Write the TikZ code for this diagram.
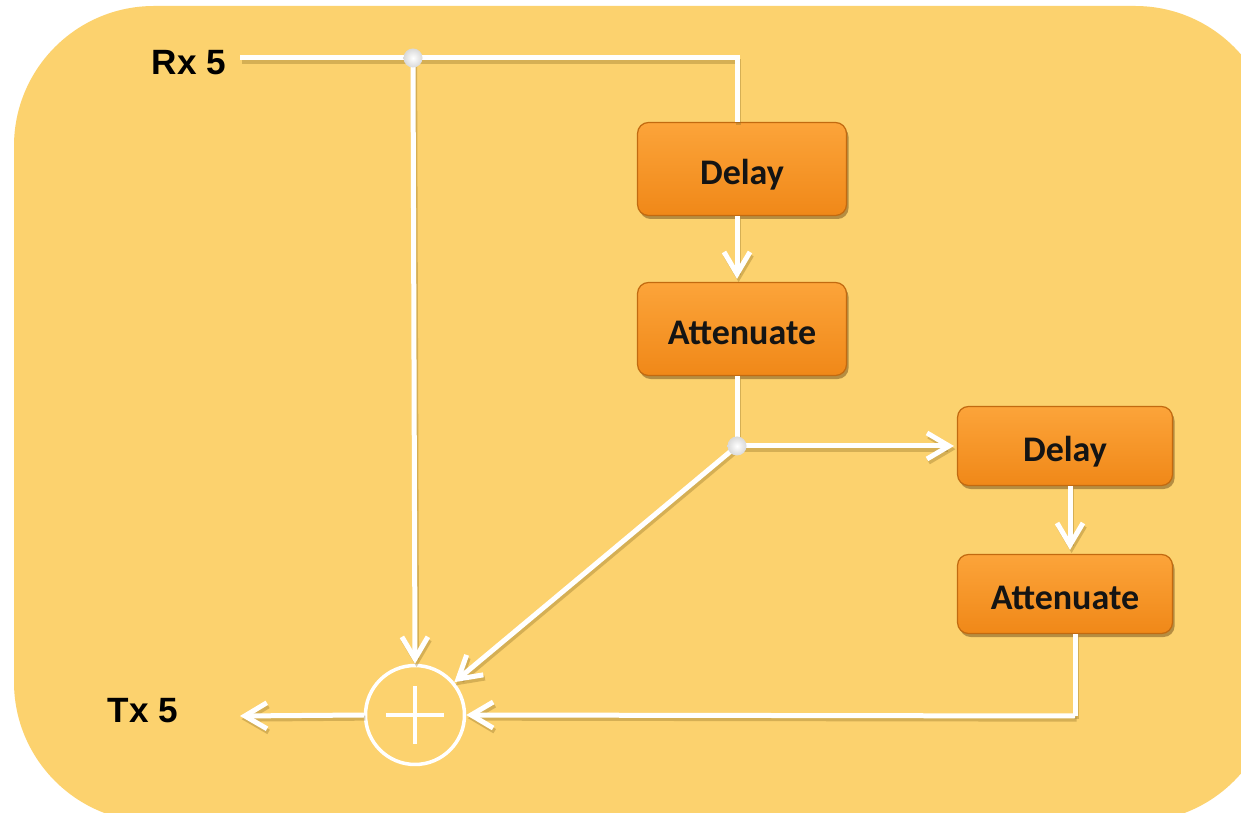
\documentclass[tikz,border=0pt]{standalone}
\usepackage{fontspec}
\setmainfont{Liberation Sans}
\newfontfamily\boxfont{Carlito}
\usetikzlibrary{arrows.meta,shadows,calc}
\definecolor{panel}{HTML}{FCD26E}
\definecolor{boxtop}{HTML}{FCA43A}
\definecolor{boxbot}{HTML}{F08818}
\definecolor{boxedge}{HTML}{C26A10}
\definecolor{wireshade}{HTML}{8F6E26}

\begin{document}
\begin{tikzpicture}[x=0.02cm,y=-0.02cm,
  wire/.style={draw=white, line width=0.1cm,
    preaction={draw=wireshade, opacity=0.35, line width=0.1cm,
      transform canvas={shift={(0.9pt,-1.8pt)}}}},
  arr/.style={wire, -{Straight Barb[length=0.44cm,width=0.52cm]}},
  blk/.style={draw=boxedge, line width=0.7pt, rounded corners=0.22cm,
    top color=boxtop, bottom color=boxbot,
    drop shadow={shadow xshift=1.2pt, shadow yshift=-2pt, opacity=0.4, fill=black!70!orange},
    minimum width=4.18cm, minimum height=1.86cm,
    text height=0.62cm, text depth=0pt,
    font=\boxfont\fontsize{20.5}{22}\selectfont\bfseries, text=black!92},
  blksmall/.style={blk, minimum width=4.3cm, minimum height=1.58cm},
  lab/.style={font=\fontsize{20}{24}\selectfont\bfseries, text=black},
  sumnode/.style={circle, draw=white, line width=0.07cm, minimum size=1.98cm, inner sep=0pt},
  joint/.style={inner color=white, outer color=white!70!gray}
]
% canvas and panel
\useasboundingbox (0,0) rectangle (1241,813);
\fill[white] (0,0) rectangle (1241,813);
\begin{scope}
  \clip (0,0) rectangle (1241,813);
  \fill[panel, rounded corners=2.8cm] (14,6) rectangle (1275,822);
\end{scope}

% blocks
\node[blk] (d1) at (742,169) {Delay};
\node[blk] (a1) at (742,329) {Attenuate};
\node[blksmall] (d2) at (1065,446) {Delay};
\node[blksmall] (a2) at (1065,594) {Attenuate};
\node[sumnode] (s) at (415,715) {};
\node[lab] (rx) at (189,63) {Rx 5};
\node[lab] (tx) at (143,711) {Tx 5};

% helper points
\coordinate (rxend) at (240,58);
\coordinate (j1) at (413,58);
\coordinate (c1) at (737,58);
\coordinate (j2) at (737,446);
\coordinate (c2) at (1075,716);
\coordinate (txend) at (240,716);

% plus sign in the adder
\draw[white, line width=0.07cm] ($(s.center)+(-29,0)$) -- ($(s.center)+(29,0)$);
\draw[white, line width=0.07cm] ($(s.center)+(0,-29)$) -- ($(s.center)+(0,29)$);

% connectors
\draw[wire] (rxend) -- (j1) -- (c1) -- (c1 |- d1.north);
\draw[arr] (j1) -- (s.north);
\draw[arr] (d1.south -| c1) -- ($(a1.north -| c1)+(0,-3)$);
\draw[wire] (a1.south -| c1) -- (j2);
\draw[arr] (j2) -- ($(d2.west)+(-3,0)$);
\draw[arr] (j2) -- (s);
\draw[arr] (d2.south -| 1070,0) -- ($(a2.north -| 1070,0)+(0,-4)$);
\draw[wire] (a2.south -| c2) -- (c2);
\draw[arr] (c2) -- (s.east);
\draw[arr] (s.west) -- (txend);

% junction dots
\shade[joint] (j1) circle [radius=0.19cm];
\shade[joint] (j2) circle [radius=0.19cm];
\end{tikzpicture}
\end{document}
